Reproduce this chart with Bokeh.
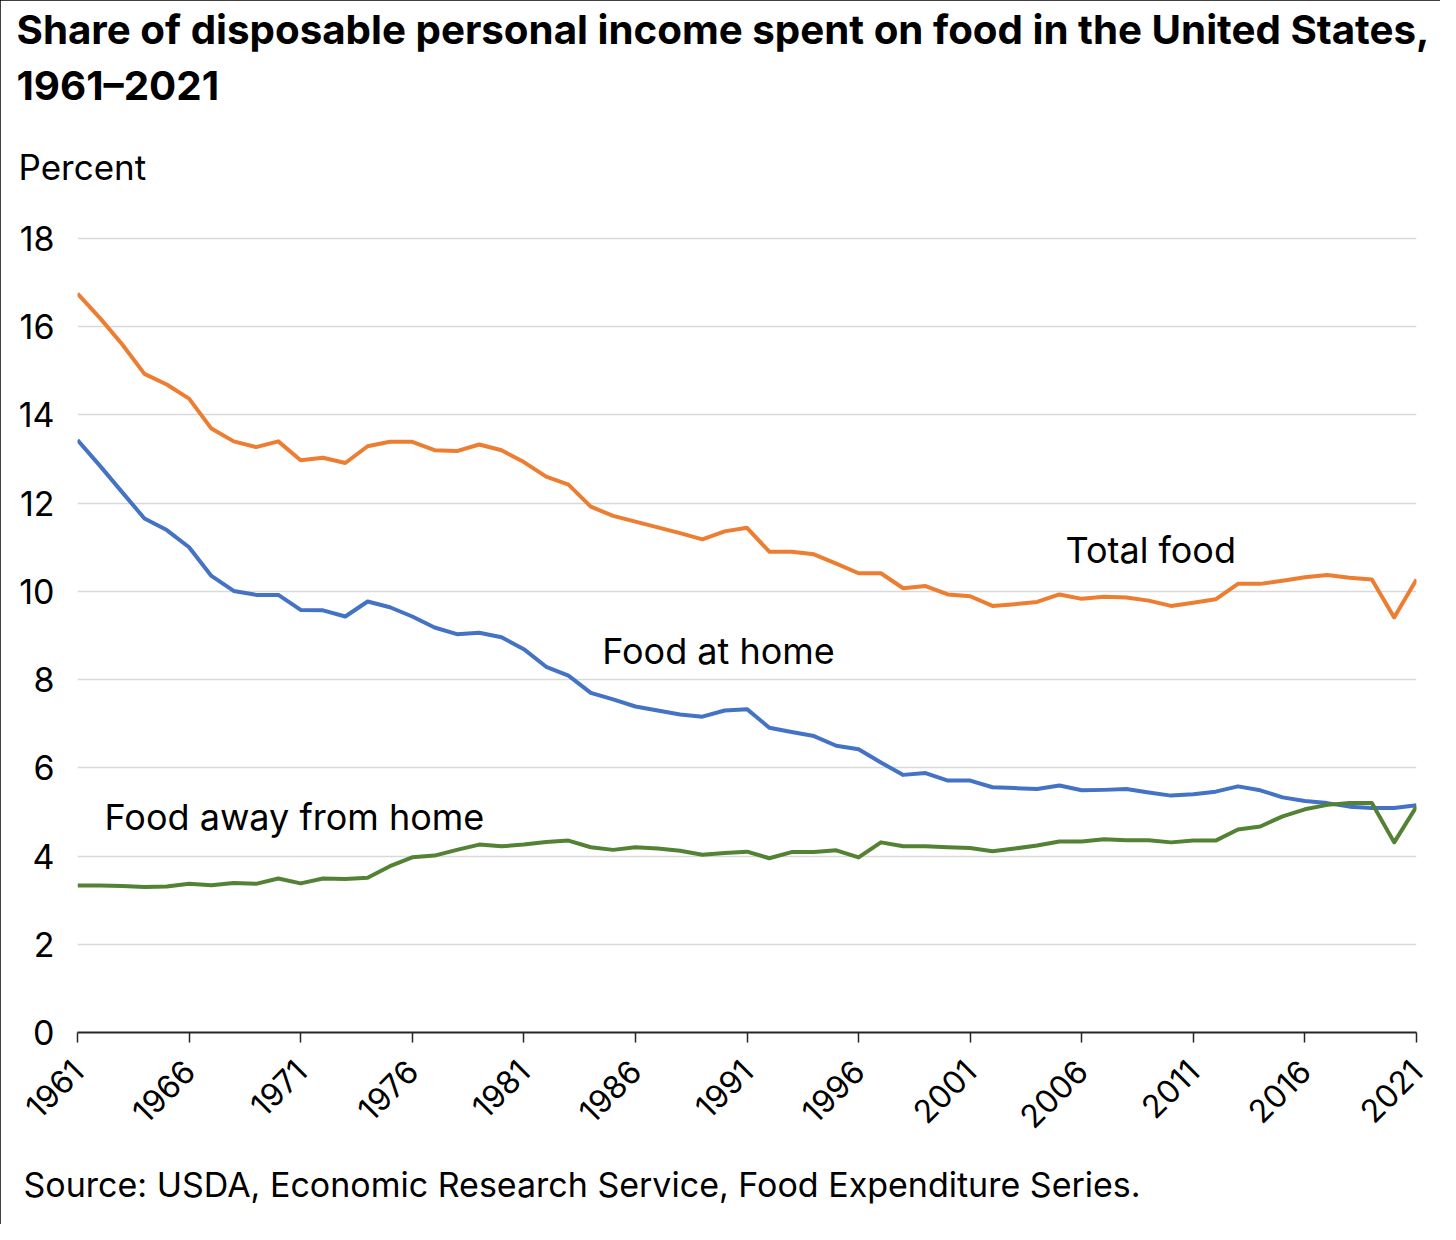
import math
from bokeh.plotting import figure
from bokeh.models import Range1d, FixedTicker, Label, Title
from bokeh.embed import file_html
from bokeh.resources import INLINE

years = list(range(1961, 2022))

total_food = [16.75, 16.20, 15.60, 14.93, 14.69, 14.37, 13.69, 13.40, 13.27, 13.40,
              12.97, 13.03, 12.91, 13.29, 13.39, 13.39, 13.20, 13.18, 13.33, 13.20,
              12.93, 12.60, 12.42, 11.92, 11.71, 11.58, 11.45, 11.32, 11.18, 11.36,
              11.44, 10.90, 10.90, 10.84, 10.63, 10.41, 10.41, 10.07, 10.12, 9.93,
              9.89, 9.67, 9.71, 9.76, 9.93, 9.83, 9.88, 9.86, 9.79, 9.67,
              9.74, 9.82, 10.17, 10.17, 10.24, 10.32, 10.37, 10.31, 10.27, 9.41,
              10.27]

food_at_home = [13.43, 12.85, 12.25, 11.65, 11.39, 11.00, 10.35, 10.01, 9.92, 9.92,
                9.58, 9.57, 9.43, 9.77, 9.64, 9.43, 9.18, 9.03, 9.06, 8.96,
                8.69, 8.29, 8.09, 7.70, 7.55, 7.39, 7.30, 7.21, 7.16, 7.30,
                7.33, 6.91, 6.81, 6.72, 6.50, 6.42, 6.12, 5.84, 5.88, 5.71,
                5.71, 5.56, 5.54, 5.52, 5.60, 5.49, 5.50, 5.52, 5.44, 5.37,
                5.40, 5.46, 5.58, 5.49, 5.33, 5.25, 5.20, 5.12, 5.09, 5.09,
                5.15]

food_away = [3.33, 3.33, 3.32, 3.30, 3.31, 3.37, 3.34, 3.39, 3.37, 3.49,
             3.38, 3.49, 3.48, 3.51, 3.77, 3.97, 4.01, 4.14, 4.26, 4.22,
             4.26, 4.32, 4.35, 4.20, 4.14, 4.20, 4.17, 4.12, 4.03, 4.07,
             4.10, 3.95, 4.09, 4.09, 4.13, 3.97, 4.31, 4.22, 4.22, 4.20,
             4.18, 4.11, 4.17, 4.24, 4.33, 4.33, 4.38, 4.36, 4.36, 4.31,
             4.35, 4.35, 4.60, 4.67, 4.90, 5.06, 5.16, 5.20, 5.20, 4.31,
             5.12]

x_ticks = [1961, 1966, 1971, 1976, 1981, 1986, 1991, 1996, 2001, 2006, 2011, 2016, 2021]
x_tick_labels = ["1961", "1966", "1971", "1976", "1981", "1986", "1991",
                 "1996", "2001", "2006", "2011", "2016", "2021"]
y_ticks = [0, 2, 4, 6, 8, 10, 12, 14, 16, 18]

title_line1 = "Share of disposable personal income spent on food in the United States,"
title_line2 = "1961\u20132021"
y_title = "Percent"
source = "Source: USDA, Economic Research Service, Food Expenditure Series."
series_names = ["Total food", "Food at home", "Food away from home"]
colors = ["#ED7D31", "#4472C4", "#548235"]

FONT = "Inter"

# frame: left 77, right 1416, top 217 (invisible headroom above 18), bottom 1033
p = figure(width=1440, height=1224, output_backend="svg", toolbar_location=None,
           x_range=Range1d(1961, 2021), y_range=Range1d(0, 18.475),
           min_border_left=77, min_border_right=24, min_border_top=217,
           min_border_bottom=191, background_fill_color="white",
           border_fill_color="white", outline_line_color=None,
           styles={"outline": "2px solid #000", "outline-offset": "-2px"})

p.line(years, total_food, line_color=colors[0], line_width=4, line_join="round")
p.line(years, food_at_home, line_color=colors[1], line_width=4, line_join="round")
p.line(years, food_away, line_color=colors[2], line_width=4, line_join="round")

# grid
p.xgrid.visible = False
p.ygrid.ticker = FixedTicker(ticks=y_ticks)
p.ygrid.grid_line_color = "#d9d9d9"
p.ygrid.grid_line_width = 1.5

# y axis
p.yaxis.ticker = FixedTicker(ticks=y_ticks)
p.yaxis.axis_line_color = None
p.yaxis.major_tick_line_color = None
p.yaxis.major_tick_out = 0
p.yaxis.major_tick_in = 0
p.yaxis.minor_tick_line_color = None
p.yaxis.minor_tick_out = 0
p.yaxis.major_label_standoff = 23
p.yaxis.major_label_text_font = FONT
p.yaxis.major_label_text_font_size = "34px"
p.yaxis.major_label_text_color = "#000000"

# x axis
p.xaxis.ticker = FixedTicker(ticks=x_ticks)
p.xaxis.major_label_overrides = {t: s for t, s in zip(x_ticks, x_tick_labels)}
p.xaxis.axis_line_color = "#262626"
p.xaxis.axis_line_width = 2
p.xaxis.major_tick_line_color = "#262626"
p.xaxis.major_tick_line_width = 1.5
p.xaxis.major_tick_in = 0
p.xaxis.major_tick_out = 10
p.xaxis.minor_tick_line_color = None
p.xaxis.minor_tick_out = 0
p.xaxis.major_label_orientation = math.pi / 4
p.xaxis.major_label_standoff = 23
p.xaxis.major_label_text_font = FONT
p.xaxis.major_label_text_font_size = "32px"
p.xaxis.major_label_text_color = "#000000"


def add_title(text, side, size, style, offset, standoff):
    p.add_layout(Title(text=text, align="left", vertical_align="bottom",
                       offset=offset, standoff=standoff,
                       text_font=FONT, text_font_size=size, text_font_style=style,
                       text_color="#000000"), side)


# above panels: first added sits closest to the frame
add_title(y_title, "above", "35px", "normal", -59, 59)
add_title(title_line2, "above", "40.3px", "bold", -61, 8.6)
add_title(title_line1, "above", "40.3px", "bold", -61, 0.2)
add_title(source, "below", "34px", "normal", -54, 40)


def add_label(x, y, text, size):
    p.add_layout(Label(x=x, y=y, text=text, text_font=FONT, text_font_size=size,
                       text_color="#000000", text_baseline="middle",
                       text_align="left"))


add_label(2005.27, 10.94, series_names[0], "36px")
add_label(1984.51, 8.645, series_names[1], "36px")
add_label(1962.21, 4.895, series_names[2], "36px")

open("out.html", "w").write(file_html(p, INLINE))
